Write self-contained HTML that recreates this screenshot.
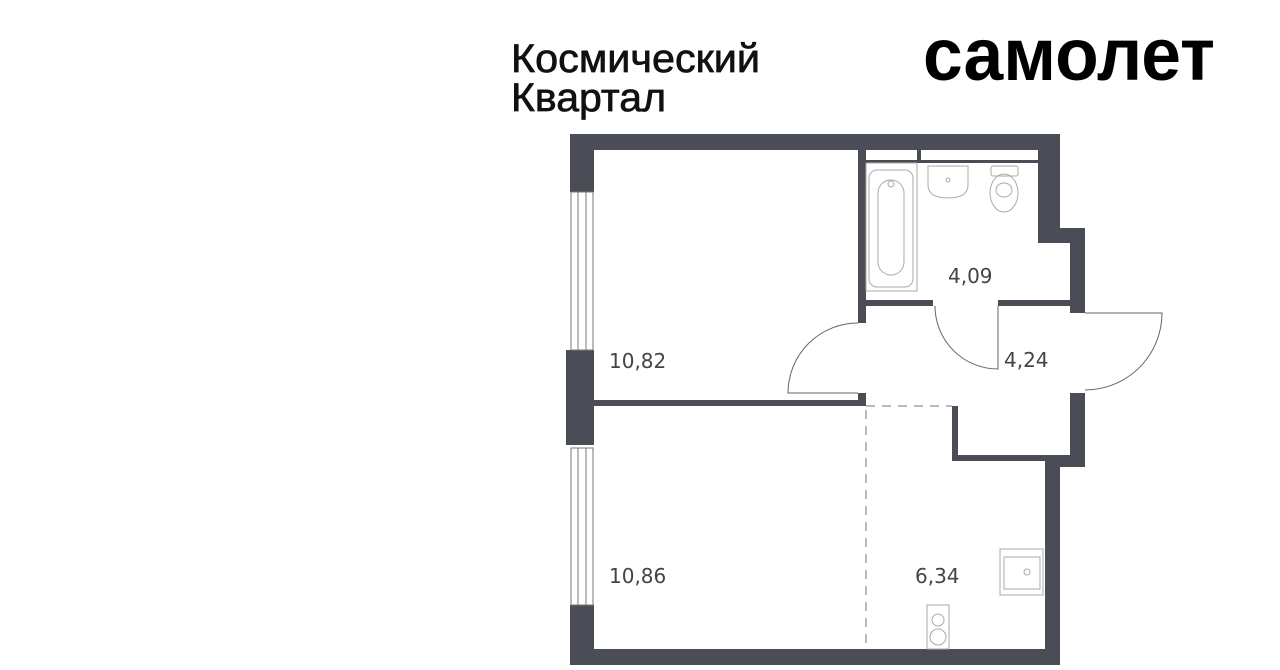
<!DOCTYPE html>
<html><head><meta charset="utf-8"><style>
html,body{margin:0;padding:0;background:#fff;}
svg{display:block;}
</style></head><body>
<svg width="1280" height="670" viewBox="0 0 1280 670" xmlns="http://www.w3.org/2000/svg">
<rect width="1280" height="670" fill="#fff"/>
<g font-family="Liberation Sans, sans-serif" fill="#111" stroke="#111" stroke-width="0.7">
<text x="511" y="72" font-size="40" textLength="249" lengthAdjust="spacingAndGlyphs">Космический</text>
<text x="511" y="111" font-size="40" textLength="155" lengthAdjust="spacingAndGlyphs">Квартал</text>
</g>
<text x="923" y="80" font-family="Liberation Sans, sans-serif" font-weight="bold" font-size="74" fill="#000" textLength="292" lengthAdjust="spacingAndGlyphs">самолет</text>

<g fill="#4a4d56">
<rect x="570" y="134" width="490" height="16"/>
<rect x="570" y="134" width="24" height="58"/>
<rect x="566" y="350" width="28" height="95"/>
<rect x="570" y="605" width="24" height="60"/>
<rect x="570" y="649" width="490" height="16"/>
<rect x="1038" y="134" width="22" height="109"/>
<rect x="1038" y="228" width="47" height="15"/>
<rect x="1070" y="228" width="15" height="85"/>
<rect x="1070" y="393" width="15" height="74"/>
<rect x="1045" y="455" width="40" height="12"/>
<rect x="1045" y="455" width="15" height="210"/>
<rect x="952" y="406" width="6" height="54"/>
<rect x="952" y="455" width="95" height="6"/>
<rect x="594" y="400" width="272" height="6"/>
<rect x="858" y="393" width="8" height="13"/>
<rect x="858" y="150" width="8" height="173"/>
<rect x="866" y="300" width="67" height="6"/>
<rect x="998" y="300" width="72" height="6"/>
<rect x="917" y="150" width="4" height="12"/>
<rect x="866" y="160" width="172" height="3"/>
</g>

<g fill="none" stroke="#777" stroke-width="1">
<rect x="571" y="192" width="22" height="158"/>
<line x1="578" y1="192" x2="578" y2="350"/><line x1="586" y1="192" x2="586" y2="350"/>
<rect x="571" y="448" width="22" height="157"/>
<line x1="578" y1="448" x2="578" y2="605"/><line x1="586" y1="448" x2="586" y2="605"/>
</g>

<g fill="none" stroke="#666" stroke-width="1">
<path d="M858 323 A70 70 0 0 0 788 393 L858 393"/>
<path d="M935 306 A63 63 0 0 0 998 369 L998 306"/>
<path d="M1085 313 L1162 313 A77 77 0 0 1 1085 390"/>
</g>
<g stroke="#777" stroke-width="1" stroke-dasharray="9,7" fill="none">
<line x1="866" y1="406" x2="952" y2="406"/>
<line x1="866" y1="410" x2="866" y2="650"/>
</g>

<g fill="none" stroke="#aaa" stroke-width="1">
<rect x="866" y="163" width="51" height="128"/>
<rect x="869" y="170" width="44" height="117" rx="8"/>
<rect x="878" y="180" width="26" height="95" rx="13"/>
<circle cx="891" cy="184" r="3"/>
<path d="M928 166 H968 V185 Q968 198 948 198 Q928 198 928 185 Z"/>
<circle cx="948" cy="180" r="2"/>
<rect x="991" y="166" width="27" height="10" rx="2"/>
<ellipse cx="1004" cy="193" rx="14" ry="19"/>
<ellipse cx="1004" cy="190" rx="8" ry="7"/>
<rect x="1000" y="549" width="43" height="46"/>
<rect x="1004" y="557" width="36" height="32"/>
<circle cx="1027" cy="572" r="3"/>
<rect x="927" y="605" width="22" height="44"/>
<circle cx="938" cy="620" r="6"/>
<circle cx="938" cy="637" r="8"/>
</g>

<g font-family="DejaVu Sans, sans-serif" font-size="20" fill="#444">
<text x="609" y="368">10,82</text>
<text x="609" y="583">10,86</text>
<text x="948" y="283">4,09</text>
<text x="1004" y="367">4,24</text>
<text x="915" y="583">6,34</text>
</g>
</svg>
</body></html>
